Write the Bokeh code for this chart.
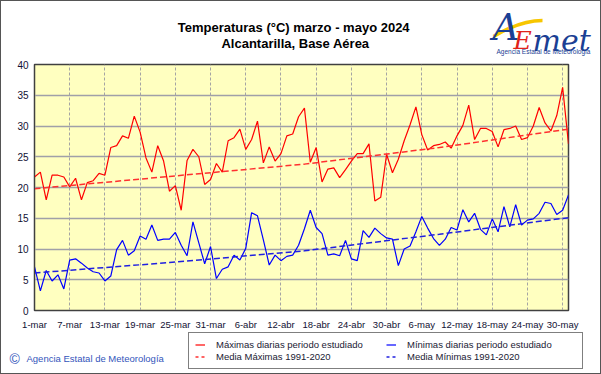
from bokeh.plotting import figure
from bokeh.layouts import column
from bokeh.models import Range1d, FixedTicker, Label, Legend, LegendItem
from bokeh.embed import file_html
from bokeh.resources import INLINE

# ---- data ----
tick_days = [0, 6, 12, 18, 24, 30, 36, 42, 48, 54, 60, 66, 72, 78, 84, 90]
tick_labels = ["1-mar", "7-mar", "13-mar", "19-mar", "25-mar", "31-mar", "6-abr",
               "12-abr", "18-abr", "24-abr", "30-abr", "6-may", "12-may", "18-may",
               "24-may", "30-may"]

max_vals = [21.7, 22.5, 18.0, 22.0, 22.0, 21.7, 20.1, 21.5, 18.0, 20.8,
            21.1, 22.3, 22.0, 26.5, 26.8, 28.4, 28.0, 31.6, 29.0, 24.8,
            22.5, 26.8, 24.3, 19.4, 20.3, 16.3, 24.4, 26.2, 25.0, 20.5,
            21.3, 23.9, 22.5, 27.6, 28.1, 29.5, 26.2, 27.8, 30.8, 24.0,
            26.6, 24.3, 25.5, 28.4, 28.7, 31.5, 32.9, 24.1, 26.5, 20.9,
            23.0, 23.2, 21.6, 22.9, 24.3, 25.5, 25.5, 27.1, 17.8, 18.4,
            25.4, 22.4, 24.6, 27.6, 30.2, 33.1, 28.6, 26.1, 26.8, 27.0,
            27.4, 26.4, 28.4, 30.1, 33.4, 27.8, 29.6, 29.6, 29.1, 26.6,
            29.4, 29.6, 30.0, 27.8, 28.1, 30.0, 33.0, 30.5, 29.2, 31.7,
            36.3, 27.1]

min_vals = [7.1, 3.2, 6.5, 4.8, 5.8, 3.5, 8.2, 8.4, 7.7, 6.9,
            6.3, 6.1, 4.8, 5.6, 9.9, 11.4, 9.0, 9.7, 12.1, 11.6,
            13.9, 11.4, 11.6, 11.6, 12.7, 10.6, 8.9, 14.4, 11.0, 7.6,
            10.4, 5.2, 6.7, 7.1, 9.0, 8.2, 10.1, 15.9, 15.4, 11.5,
            7.4, 9.0, 8.1, 8.8, 9.0, 10.6, 13.3, 16.3, 13.5, 12.5,
            9.0, 9.2, 8.9, 11.4, 8.4, 8.1, 13.0, 11.9, 13.4, 12.5,
            11.8, 11.6, 7.3, 10.0, 10.5, 12.8, 15.3, 13.4, 11.7, 10.6,
            11.6, 13.5, 13.1, 16.4, 14.4, 15.8, 13.2, 12.3, 14.9, 12.8,
            16.9, 13.6, 17.2, 13.9, 14.7, 14.9, 15.8, 17.6, 17.4, 15.6,
            16.3, 18.8]

mean_days = [0, 23, 46, 69, 91]
mean_max = [19.8, 21.8, 23.8, 26.5, 29.5]
mean_min = [6.1, 7.8, 9.7, 12.4, 15.1]

days = list(range(len(max_vals)))

title1 = "Temperaturas (°C) marzo  - mayo 2024"
title2 = "Alcantarilla, Base Aérea"
legend_labels = ["Máximas diarias periodo estudiado", "Mínimas diarias periodo estudiado",
                 "Media Máximas 1991-2020", "Media Mínimas 1991-2020"]
credit_mark = "©"
credit_text = "Agencia Estatal de Meteorología"

FONT = "Liberation Sans"
W = 599
RED, BLUE = "#FF0000", "#0000FF"
RED_D, BLUE_D = "#FF3030", "#2020E0"
NAN = float("nan")


def blank(h):
    f = figure(width=W, height=h, output_backend="svg", toolbar_location=None,
               x_range=Range1d(0, W), y_range=Range1d(h, 0),
               x_axis_location=None, y_axis_location=None,
               min_border=0, min_border_left=0, min_border_right=0,
               min_border_top=0, min_border_bottom=0, frame_align=False)
    f.grid.visible = False
    f.outline_line_color = None
    f.background_fill_color = "white"
    f.border_fill_color = "white"
    return f


# ---------- header: title + logo ----------
head = blank(59)
head.add_layout(Label(x=294, y=26, text=title1, text_align="center", text_baseline="middle",
                      text_font=FONT, text_font_style="bold", text_font_size="13px",
                      text_color="black"))
head.add_layout(Label(x=294, y=42, text=title2, text_align="center", text_baseline="middle",
                      text_font=FONT, text_font_style="bold", text_font_size="13px",
                      text_color="black"))
head.bezier(x0=[492], y0=[35], x1=[541], y1=[19], cx0=[507], cy0=[26], cx1=[524], cy1=[19],
            line_color="#F7C600", line_width=3.5)
logo_font = "DejaVu Serif"
head.add_layout(Label(x=491, y=4, text="A", text_font=logo_font, text_font_style="italic",
                      text_font_size="37px", text_color="#1B3F94", text_baseline="top"))
head.add_layout(Label(x=512, y=39, text="E", text_font=logo_font, text_font_style="italic",
                      text_font_size="25px", text_color="#E2231A", text_baseline="alphabetic"))
head.add_layout(Label(x=531, y=39, text="met", text_font=logo_font, text_font_style="italic",
                      text_font_size="30px", text_color="#1B3F94", text_baseline="alphabetic"))
head.add_layout(Label(x=542, y=50, text="Agencia Estatal de Meteorología", text_align="center",
                      text_baseline="middle", text_font=FONT, text_font_size="6.5px",
                      text_color="#1B3F94"))

# ---------- main chart ----------
p = figure(width=W, height=272, output_backend="svg", toolbar_location=None,
           x_range=Range1d(0, 91), y_range=Range1d(0, 40),
           min_border_left=33, min_border_right=32, min_border_top=4,
           min_border_bottom=21, frame_align=False)
p.background_fill_color = "#FFFFC0"
p.border_fill_color = "white"
p.outline_line_color = "#404040"
p.outline_line_width = 1.5

p.xaxis.ticker = FixedTicker(ticks=tick_days)
p.xaxis.major_label_overrides = {d: l for d, l in zip(tick_days, tick_labels)}
p.yaxis.ticker = FixedTicker(ticks=list(range(0, 41, 5)))
for ax in (p.xaxis, p.yaxis):
    ax.major_tick_out = 0
    ax.major_tick_in = 0
    ax.minor_tick_out = 0
    ax.minor_tick_in = 0
    ax.axis_line_color = "#404040"
    ax.major_label_text_font = FONT
    ax.major_label_text_color = "#111133"
p.xaxis.major_label_text_font_size = "9.5px"
p.yaxis.major_label_text_font_size = "10px"
p.xaxis.major_label_standoff = 8
p.yaxis.major_label_standoff = 6

p.xgrid.ticker = FixedTicker(ticks=tick_days)
p.xgrid.grid_line_color = "#A4A4A4"
p.xgrid.grid_line_dash = "3 2"
p.ygrid.grid_line_color = "#A0A0A8"
p.ygrid.grid_line_width = 1.4

p.line(days, max_vals, line_color=RED, line_width=1.2)
p.line(mean_days, mean_max, line_color=RED_D, line_width=1.5, line_dash="6 3")
p.line(days, min_vals, line_color=BLUE, line_width=1.2)
p.line(mean_days, mean_min, line_color=BLUE_D, line_width=1.5, line_dash="6 3")

# ---------- footer: legend + credit ----------
foot = blank(41)
k_max = foot.line([NAN], [NAN], line_color=RED, line_width=1.2)
k_min = foot.line([NAN], [NAN], line_color=BLUE, line_width=1.2)
k_mmax = foot.line([NAN], [NAN], line_color=RED_D, line_width=1.5, line_dash="3 3")
k_mmin = foot.line([NAN], [NAN], line_color=BLUE_D, line_width=1.5, line_dash="3 3")
legend = Legend(items=[LegendItem(label=t, renderers=[r]) for t, r in
                       zip(legend_labels, [k_max, k_min, k_mmax, k_mmin])],
                location=(187, 4), orientation="horizontal", ncols=2)
legend.label_text_font = FONT
legend.label_text_font_size = "9.5px"
legend.label_text_color = "#1a1a33"
legend.glyph_width = 10
legend.glyph_height = 11
legend.label_standoff = 11
legend.label_width = 169
legend.label_height = 11
legend.padding = 6
legend.spacing = 1
legend.margin = 0
legend.border_line_color = "black"
legend.border_line_width = 1
legend.background_fill_color = "white"
legend.background_fill_alpha = 1
foot.add_layout(legend, "center")
foot.add_layout(Label(x=8, y=26, text=credit_mark, text_align="left", text_baseline="middle",
                      text_font=FONT, text_font_size="14px", text_color="#3355BB"))
foot.add_layout(Label(x=25, y=26, text=credit_text, text_align="left", text_baseline="middle",
                      text_font=FONT, text_font_size="9.5px", text_color="#3355BB"))

page = column(head, p, foot, spacing=0)
page.styles = {"border": "1px solid #555555"}

open("out.html", "w").write(file_html(page, INLINE))
